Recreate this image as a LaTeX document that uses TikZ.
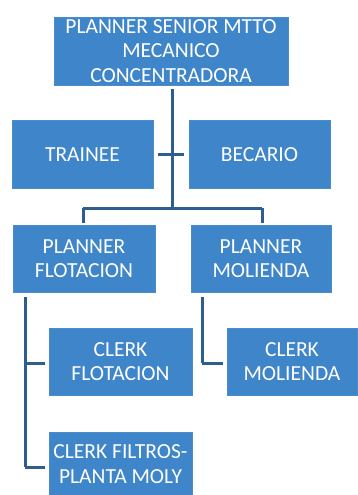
\documentclass[tikz,border=0pt]{standalone}
\usepackage{fontspec}
\setmainfont{Carlito}
\begin{document}
\begin{tikzpicture}[x=1pt,y=-1pt,
  box/.style={fill=boxblue, draw=boxedge, line width=0.8pt, text=white,
    align=center, inner sep=0pt, font=\fontsize{21.5}{24.5}\selectfont},
  link/.style={draw=linkblue, line width=3pt}]
\definecolor{boxblue}{HTML}{3E85C9}
\definecolor{boxedge}{HTML}{4A8DCC}
\definecolor{linkblue}{HTML}{2E5E90}
\useasboundingbox (0,0) rectangle (358,495);

% positions
\node[box, minimum width=234pt, minimum height=68pt] (top) at (171,51)
  {PLANNER SENIOR MTTO\\MECANICO\\CONCENTRADORA};
\node[box, minimum width=141pt, minimum height=68pt] (trainee) at (82.5,154.5) {TRAINEE};
\node[box, minimum width=141pt, minimum height=68pt] (becario) at (259.5,154.5) {BECARIO};
\node[box, minimum width=142pt, minimum height=67pt] (pflot) at (84,258.5) {PLANNER\\FLOTACION};
\node[box, minimum width=140pt, minimum height=67pt] (pmol) at (261,258.5) {PLANNER\\MOLIENDA};
\node[box, minimum width=143pt, minimum height=67pt] (cflot) at (120.5,361.5) {CLERK\\FLOTACION};
\node[box, minimum width=130pt, minimum height=67pt] (cmol) at (292,361.5) {CLERK\\MOLIENDA};
\node[box, minimum width=143pt, minimum height=64pt] (cfilt) at (120.5,464) {CLERK FILTROS-\\PLANTA MOLY};

% junctions
\coordinate (hub) at (172,208);
\coordinate (lft) at (83,208);
\coordinate (rgt) at (262,208);
\coordinate (ltop) at (25,297);
\coordinate (lmid) at (25,363);
\coordinate (lbot) at (25,467);
\coordinate (rtop) at (202,297);
\coordinate (rmid) at (202,363);

% connectors
\draw[link] (top.south) ++(1,4) -- (hub);
\draw[link, shorten <=5pt, shorten >=5pt] (trainee.east) -- (becario.west);
\draw[link] (lft) -- (rgt);
\draw[link, shorten >=2pt] (lft) -- (pflot.north -| lft);
\draw[link, shorten >=2pt] (rgt) -- (pmol.north -| rgt);
\draw[link] (ltop) -- (lbot);
\draw[link, shorten >=4pt] (lmid) -- (cflot.west |- lmid);
\draw[link, shorten >=4pt] (lbot) -- (cfilt.west |- lbot);
\draw[link] (rtop) -- (rmid);
\draw[link, shorten >=4pt] (rmid) -- (cmol.west |- rmid);
\end{tikzpicture}
\end{document}
